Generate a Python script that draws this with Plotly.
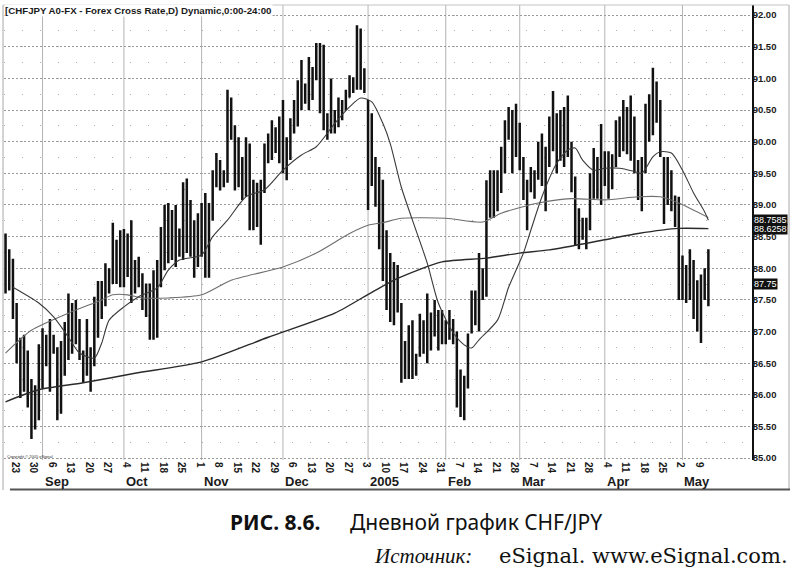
import pandas as pd
import plotly.graph_objects as go

# ---------------- data ----------------
START, END = "2004-08-18", "2005-05-11"
DATES = pd.bdate_range(START, END)

HIGH = [88.55, 88.30, 88.15, 87.45, 86.90, 86.95, 86.70, 86.25, 86.15, 86.80,
        87.05, 86.95, 87.20, 86.95, 86.75, 86.85, 87.15, 87.60, 87.45, 87.50,
        87.20, 86.70, 87.20, 86.75, 87.55, 87.80, 87.80, 88.08, 88.00, 88.72,
        88.45, 88.60, 88.62, 88.55, 88.76, 88.13, 88.18, 87.92, 87.76, 87.76,
        87.97, 88.13, 88.65, 89.00, 89.03, 88.92, 89.00, 88.63, 89.36, 89.42,
        89.08, 88.76, 88.87, 89.03, 89.19, 89.03, 89.55, 89.82, 89.71, 89.55,
        90.82, 90.70, 90.26, 90.07, 89.76, 90.07, 89.97, 89.40, 89.35, 89.40,
        89.97, 90.13, 90.34, 90.23, 90.40, 90.66, 90.07, 90.37, 90.66, 90.97,
        91.29, 90.92, 91.34, 91.18, 91.56, 91.56, 91.53, 90.45, 91.00, 90.50,
        90.70, 90.66, 90.82, 91.05, 91.02, 91.84, 91.79, 91.16, 90.66, 90.45,
        89.76, 89.60, 89.40, 88.60, 88.24, 88.10, 88.05, 87.45, 86.85, 87.10,
        87.18, 86.65, 87.28, 87.18, 87.60, 87.30, 87.50, 87.34, 87.34, 87.18,
        87.34, 87.20, 87.00, 86.40, 86.30, 86.97, 87.65, 87.65, 88.24, 88.00,
        89.39, 89.55, 89.55, 89.55, 89.92, 90.34, 90.55, 90.50, 90.60, 90.30,
        89.76, 89.40, 89.60, 89.55, 90.00, 90.13, 89.92, 90.40, 90.80, 90.45,
        90.50, 90.55, 90.73, 90.00, 89.45, 88.95, 88.80, 88.80, 89.50, 89.90,
        89.76, 90.28, 89.85, 89.85, 89.80, 90.34, 90.40, 90.66, 90.55, 90.73,
        90.40, 89.71, 89.76, 90.60, 90.75, 91.17, 90.95, 90.66, 89.76, 89.76,
        89.55, 89.15, 89.13, 88.20, 88.05, 88.30, 88.13, 87.81, 87.90, 88.00,
        88.30]

LOW = [87.60, 87.65, 87.20, 86.50, 85.95, 86.05, 85.80, 85.30, 85.45, 85.60,
       86.10, 86.45, 86.05, 86.65, 85.60, 85.70, 86.30, 86.55, 86.65, 86.80,
       86.55, 86.20, 86.30, 86.05, 86.45, 86.90, 87.20, 87.40, 87.60, 87.75,
       87.75, 87.70, 87.70, 87.86, 87.45, 87.60, 87.70, 87.34, 87.23, 86.87,
       86.87, 86.90, 87.70, 87.97, 88.08, 88.13, 88.02, 88.18, 88.13, 88.24,
       88.18, 87.85, 88.02, 88.18, 87.85, 87.85, 88.75, 89.28, 89.23, 89.28,
       89.35, 90.03, 89.23, 89.28, 89.08, 89.13, 88.60, 88.60, 88.65, 88.37,
       89.19, 89.66, 89.71, 89.82, 89.66, 89.50, 89.39, 89.71, 90.13, 90.24,
       90.50, 90.60, 90.50, 90.66, 90.97, 90.45, 90.18, 90.03, 90.13, 90.13,
       90.23, 90.34, 90.50, 90.70, 90.77, 90.82, 90.82, 90.77, 88.92, 89.30,
       88.97, 88.30, 87.80, 87.34, 87.15, 87.10, 87.30, 86.19, 86.25, 86.25,
       86.25, 86.30, 86.60, 86.65, 86.50, 86.70, 86.92, 86.70, 86.80, 86.80,
       86.87, 86.80, 85.80, 85.65, 85.60, 86.10, 86.97, 87.10, 87.00, 87.50,
       87.55, 88.80, 88.80, 88.90, 89.19, 89.50, 90.03, 89.50, 89.76, 89.55,
       89.08, 88.60, 89.20, 89.10, 89.40, 89.30, 88.90, 89.60, 89.85, 89.50,
       89.70, 89.60, 89.76, 89.20, 88.35, 88.30, 88.45, 88.30, 88.60, 89.10,
       89.10, 89.00, 89.30, 89.10, 89.25, 89.60, 89.76, 89.85, 89.80, 89.70,
       89.50, 89.08, 88.90, 89.50, 90.00, 90.10, 90.30, 89.76, 88.70, 89.00,
       88.90, 88.65, 87.50, 87.50, 87.45, 87.50, 87.20, 87.00, 86.82, 87.50,
       87.40]

OPEN = [87.70, 88.20, 87.80, 87.30, 86.60, 86.20, 86.60, 85.90, 85.60, 86.00,
        86.60, 86.50, 86.80, 86.70, 86.70, 85.80, 86.50, 86.90, 87.40, 86.90,
        87.10, 86.60, 86.40, 86.60, 86.50, 87.30, 87.50, 87.50, 87.80, 87.80,
        88.40, 87.90, 88.30, 87.90, 88.40, 87.70, 87.90, 87.80, 87.50, 87.40,
        87.00, 87.60, 88.00, 88.40, 88.70, 88.30, 88.70, 88.30, 88.40, 89.10,
        88.50, 88.60, 88.10, 88.60, 88.40, 88.00, 88.90, 89.40, 89.60, 89.40,
        89.50, 90.60, 90.20, 89.40, 89.70, 89.30, 89.80, 88.90, 89.10, 88.80,
        89.30, 89.80, 89.90, 90.10, 89.90, 90.30, 89.70, 89.90, 90.30, 90.50,
        90.80, 90.90, 90.70, 91.10, 91.00, 91.40, 90.70, 90.30, 90.20, 90.40,
        90.30, 90.60, 90.50, 90.70, 90.90, 90.90, 91.60, 91.00, 90.60, 89.50,
        89.70, 89.30, 89.20, 88.20, 87.60, 87.90, 87.50, 87.30, 86.40, 86.70,
        86.40, 86.60, 86.70, 87.00, 86.80, 87.20, 87.00, 87.20, 86.90, 87.10,
        86.90, 87.10, 86.90, 86.10, 85.80, 86.20, 87.00, 87.40, 87.20, 87.90,
        87.70, 89.00, 89.30, 89.00, 89.30, 89.70, 90.20, 90.30, 89.80, 90.20,
        89.60, 89.20, 89.30, 89.40, 89.50, 89.90, 89.50, 89.70, 90.20, 90.10,
        89.80, 90.30, 89.90, 89.90, 89.30, 88.50, 88.70, 88.50, 88.70, 89.30,
        89.60, 89.20, 89.80, 89.40, 89.60, 89.70, 90.10, 90.00, 90.40, 89.90,
        90.30, 89.60, 89.10, 89.60, 90.30, 90.60, 90.80, 90.50, 89.70, 89.10,
        89.40, 89.00, 88.90, 87.70, 87.90, 87.60, 88.00, 87.40, 87.20, 87.70,
        87.90]

CLOSE = [88.20, 87.80, 87.30, 86.60, 86.20, 86.70, 85.90, 85.60, 86.00, 86.70,
         86.40, 86.80, 86.20, 86.80, 85.80, 86.60, 87.00, 87.40, 86.90, 87.30,
         86.70, 86.40, 86.90, 86.20, 87.40, 87.60, 87.40, 87.90, 87.70, 88.50,
         87.90, 88.40, 87.90, 88.40, 87.60, 88.00, 87.80, 87.50, 87.40, 87.00,
         87.80, 88.00, 88.50, 88.80, 88.30, 88.70, 88.20, 88.50, 89.10, 88.50,
         88.90, 88.00, 88.70, 88.40, 88.00, 88.90, 89.40, 89.60, 89.40, 89.50,
         90.60, 90.20, 89.40, 89.90, 89.30, 89.80, 88.80, 89.10, 88.80, 89.20,
         89.80, 89.90, 90.20, 89.90, 90.30, 89.70, 89.90, 90.30, 90.50, 90.80,
         91.10, 90.70, 91.20, 90.80, 91.40, 90.70, 90.30, 90.20, 90.80, 90.30,
         90.60, 90.40, 90.70, 90.90, 90.80, 91.60, 91.00, 90.90, 89.10, 90.10,
         89.20, 88.50, 88.00, 87.60, 87.90, 87.30, 87.90, 86.40, 86.70, 86.40,
         87.00, 86.40, 87.10, 86.80, 87.40, 86.90, 87.30, 86.90, 87.20, 86.90,
         87.20, 86.90, 86.00, 85.80, 86.20, 86.90, 87.50, 87.20, 88.10, 87.70,
         89.20, 89.30, 88.90, 89.40, 89.80, 90.20, 90.40, 89.70, 90.40, 89.70,
         89.20, 88.80, 89.50, 89.20, 89.90, 89.50, 89.00, 90.30, 90.00, 89.60,
         90.30, 89.80, 90.50, 89.30, 88.50, 88.80, 88.60, 88.70, 89.40, 89.70,
         89.20, 90.10, 89.40, 89.70, 89.40, 90.20, 89.90, 90.50, 89.90, 90.60,
         89.60, 89.20, 89.60, 90.40, 90.60, 90.90, 90.40, 89.90, 89.00, 89.60,
         89.00, 88.90, 87.70, 88.00, 87.60, 88.10, 87.40, 87.20, 87.70, 87.90,
         87.75]

# moving averages, read at trading-day indices
FAST_IDX = [2, 9, 13, 17, 20, 24, 26, 28, 32, 36, 41, 44, 47, 53, 56, 60, 65,
            70, 75, 80, 84, 89, 93, 96, 99, 102, 104, 107, 110, 114, 117, 121,
            124, 126, 128, 133, 136, 140, 142, 145, 149, 152, 154, 156, 159,
            162, 166, 170, 172, 175, 177, 180, 183, 186, 189, 190]
FAST_MA = [87.70, 87.45, 87.23, 86.91, 86.66, 86.58, 86.82, 87.18, 87.39,
           87.55, 87.69, 87.97, 88.13, 88.21, 88.50, 88.76, 89.13, 89.24,
           89.55, 89.79, 89.92, 90.29, 90.55, 90.69, 90.63, 90.29, 89.97,
           89.28, 88.76, 88.08, 87.45, 86.98, 86.79, 86.74, 86.87, 87.18,
           87.70, 88.24, 88.60, 89.13, 89.66, 89.87, 89.90, 89.71, 89.55,
           89.58, 89.58, 89.53, 89.50, 89.76, 89.84, 89.82, 89.55, 89.19,
           88.89, 88.7585]

MID_IDX = [0, 7, 17, 26, 29, 33, 37, 44, 53, 61, 75, 84, 93, 98, 102, 107,
           119, 129, 134, 144, 153, 162, 171, 177, 182, 190]
MID_MA = [86.66, 87.02, 87.29, 87.50, 87.58, 87.58, 87.53, 87.53, 87.58,
          87.81, 88.02, 88.24, 88.55, 88.68, 88.72, 88.79, 88.79, 88.73,
          88.87, 89.03, 89.10, 89.08, 89.13, 89.13, 89.03, 88.80]

LONG_IDX = [0, 9, 21, 35, 53, 71, 89, 99, 106, 118, 130, 139, 147, 162, 171,
            182, 190]
LONG_MA = [85.89, 86.08, 86.19, 86.34, 86.52, 86.91, 87.29, 87.62, 87.84,
           88.10, 88.16, 88.24, 88.29, 88.45, 88.55, 88.63, 88.6258]

LAST_CLOSE_LABEL = "87.75"

WEEK_TICKS = ["2004-08-23", "2004-08-30", "2004-09-06", "2004-09-13", "2004-09-20",
              "2004-09-27", "2004-10-04", "2004-10-11", "2004-10-18", "2004-10-25",
              "2004-11-01", "2004-11-08", "2004-11-15", "2004-11-22", "2004-11-29",
              "2004-12-06", "2004-12-13", "2004-12-20", "2004-12-27", "2005-01-03",
              "2005-01-10", "2005-01-17", "2005-01-24", "2005-01-31", "2005-02-07",
              "2005-02-14", "2005-02-21", "2005-02-28", "2005-03-07", "2005-03-14",
              "2005-03-21", "2005-03-28", "2005-04-04", "2005-04-11", "2005-04-18",
              "2005-04-25", "2005-05-02", "2005-05-09"]
WEEK_LABELS = [str(pd.Timestamp(d).day) for d in WEEK_TICKS]

MONTH_STARTS = ["2004-09-01", "2004-10-01", "2004-11-01", "2004-12-01", "2005-01-03",
                "2005-02-01", "2005-03-01", "2005-04-01", "2005-05-02"]
MONTH_LABELS = ["Sep", "Oct", "Nov", "Dec", "2005", "Feb", "Mar", "Apr", "May"]

Y_TICKS = [85.0 + 0.5 * k for k in range(15)]

# ---------------- figure ----------------
fig = go.Figure()

fig.add_trace(go.Ohlc(
    x=DATES, open=OPEN, high=HIGH, low=LOW, close=CLOSE,
    increasing=dict(line=dict(color="#111111", width=2.5)),
    decreasing=dict(line=dict(color="#111111", width=2.5)),
    tickwidth=0.2, hoverinfo="skip", showlegend=False))

def ma_trace(idx, vals, color, width):
    return go.Scatter(x=[DATES[i] for i in idx], y=vals, mode="lines",
                      line=dict(color=color, width=width, shape="spline", smoothing=0.7),
                      hoverinfo="skip", showlegend=False)

fig.add_trace(ma_trace(LONG_IDX, LONG_MA, "#2a2a2a", 1.4))
fig.add_trace(ma_trace(MID_IDX, MID_MA, "#6e6e6e", 1.1))
fig.add_trace(ma_trace(FAST_IDX, FAST_MA, "#3a3a3a", 1.1))

for d in MONTH_STARTS:
    fig.add_vline(x=d, line=dict(color="#b4b4b4", width=1), layer="below")

fig.update_layout(
    width=794, height=574, autosize=False,
    margin=dict(l=4, r=42, t=5, b=114, autoexpand=False),
    paper_bgcolor="white", plot_bgcolor="white",
    font=dict(family="Liberation Sans, Arial, sans-serif", color="#1a1a1a"),
    xaxis=dict(
        type="date", automargin=False,
        rangebreaks=[dict(bounds=["sat", "mon"])],
        range=["2004-08-17 14:00", "2005-05-26 19:00"],
        rangeslider=dict(visible=False),
        tickvals=WEEK_TICKS, ticktext=WEEK_LABELS,
        ticklabelposition="outside right",
        ticklabelstandoff=-4,
        tickfont=dict(size=10, family="Liberation Sans", color="#1a1a1a", weight="bold"),
        ticks="", showgrid=False, showline=False, zeroline=False,
    ),
    yaxis=dict(
        side="right", automargin=False,
        range=[84.97, 92.16],
        tickvals=Y_TICKS, tickformat=".2f",
        ticklabelstandoff=-3,
        tickfont=dict(size=9.5, family="Liberation Sans", color="#1a1a1a", weight="bold"),
        ticks="", showline=True, linecolor="#111111", linewidth=1.5,
        showgrid=True, gridcolor="#9a9a9a", gridwidth=1, griddash="2px,2px",
        minor=dict(dtick=0.25, tick0=85.0, showgrid=True, gridcolor="#b0b0b0",
                   gridwidth=1, griddash="1px,17px"),
        zeroline=False,
    ),
)

# frame lines around the chart window
fig.add_shape(type="line", xref="paper", yref="paper", x0=-0.0013, x1=-0.0013,
              y0=1.0, y1=-0.066, line=dict(color="#a8a8a8", width=1))
fig.add_shape(type="line", xref="paper", yref="paper", x0=1.0495, x1=1.0495,
              y0=1.0, y1=-0.066, line=dict(color="#a8a8a8", width=1))
fig.add_shape(type="line", xref="paper", yref="paper", x0=-0.0013, x1=1.0495,
              y0=1.0, y1=1.0, line=dict(color="#c4c4c4", width=1))
fig.add_shape(type="line", xref="paper", yref="paper", x0=0.008, x1=1.0508,
              y0=-0.0648, y1=-0.0648, line=dict(color="#555555", width=2))

annotations = []
# month labels
for d, lab in zip(MONTH_STARTS, MONTH_LABELS):
    annotations.append(dict(x=d, y=-0.048, xref="x", yref="paper", text=lab,
                            showarrow=False, xanchor="left", yanchor="middle",
                            font=dict(size=13, family="Liberation Sans", color="#1a1a1a",
                                      weight="bold")))
# title
annotations.append(dict(x=0.0, y=0.988, xref="paper", yref="paper",
                        text="[CHFJPY A0-FX - Forex Cross Rate,D) Dynamic,0:00-24:00",
                        showarrow=False, xanchor="left", yanchor="middle",
                        bgcolor="white", borderpad=0,
                        font=dict(size=9.7, family="Liberation Sans", color="#1a1a1a",
                                  weight="bold")))
# copyright
annotations.append(dict(x=0.0013, y=0.008, xref="paper", yref="paper",
                        text="Copyright © 2005 eSignal", showarrow=False,
                        xanchor="left", yanchor="middle",
                        font=dict(size=4, family="Liberation Sans", color="#333")))
# boxed value labels on the price axis
for val, txt in [(FAST_MA[-1], "88.7585"), (LONG_MA[-1], "88.6258"),
                 (CLOSE[-1], LAST_CLOSE_LABEL)]:
    annotations.append(dict(x=1.0013, y=val, xref="paper", yref="y", text=txt,
                            showarrow=False, xanchor="left", yanchor="middle",
                            bgcolor="#111111", borderpad=0,
                            font=dict(size=9, family="Liberation Sans", color="white")))
# caption
annotations.append(dict(x=0.2995, y=-0.1363, xref="paper", yref="paper",
                        text="<b>РИС. 8.6.</b>", showarrow=False,
                        xanchor="left", yanchor="middle",
                        font=dict(size=21, family="Noto Sans", color="#111")))
annotations.append(dict(x=0.4599, y=-0.1363, xref="paper", yref="paper",
                        text="Дневной график CHF/JPY", showarrow=False,
                        xanchor="left", yanchor="middle",
                        font=dict(size=21, family="Noto Sans", color="#111")))
annotations.append(dict(x=0.492, y=-0.211, xref="paper", yref="paper",
                        text="<i>Источник:</i>", showarrow=False,
                        xanchor="left", yanchor="middle",
                        font=dict(size=21, family="Liberation Serif", color="#111")))
annotations.append(dict(x=0.659, y=-0.211, xref="paper", yref="paper",
                        text="eSignal. www.eSignal.com.", showarrow=False,
                        xanchor="left", yanchor="middle",
                        font=dict(size=21, family="DejaVu Serif", color="#111")))
fig.update_layout(annotations=annotations)

fig.write_html("out.html", config={"displayModeBar": False},
               post_script="document.body.style.margin='0';document.body.style.padding='0';")
